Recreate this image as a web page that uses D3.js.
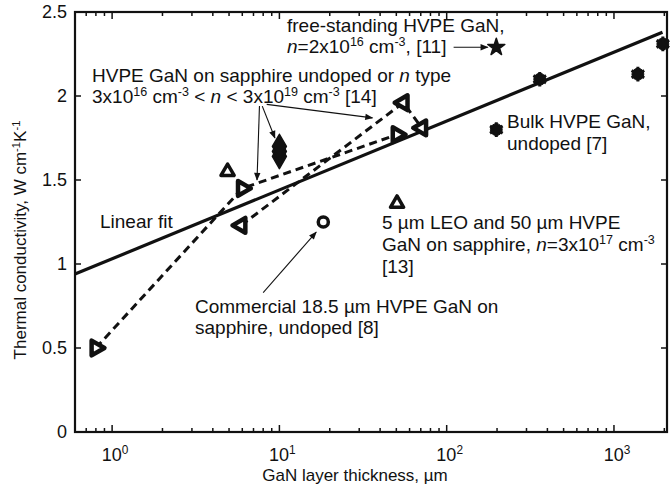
<!DOCTYPE html>
<html>
<head>
<meta charset="utf-8">
<script src="https://cdn.jsdelivr.net/npm/d3@7"></script>
<style>
  body { margin: 0; background: #fff; }
  svg { font-family: "Liberation Sans", Arial, sans-serif; }
  text { fill: #111; }
</style>
</head>
<body>
<div id="chart"></div>
<script>
// data (thickness in um, conductivity in W/cm/K)
var triRightX = [0.8, 6, 50.5];
var triRightY = [0.5, 1.45, 1.77];
var triLeftX = [5.9, 55, 71];
var triLeftY = [1.23, 1.96, 1.81];
var leoX = [4.9, 50.5];
var leoY = [1.55, 1.36];
var diamondX = [10, 10, 10];
var diamondY = [1.64, 1.67, 1.70];
var commercialX = [18.3];
var commercialY = [1.25];
var freeX = [198];
var freeY = [2.29];
var bulkX = [198, 360, 1390, 1960];
var bulkY = [1.80, 2.10, 2.13, 2.31];
var fitX = [0.6, 1950];
var fitY = [0.94, 2.38];
var yTicks = [0, 0.5, 1, 1.5, 2, 2.5];
var xMajor = [1, 10, 100, 1000];

var width = 672, height = 486;
var svg = d3.select("#chart").append("svg")
  .attr("width", width)
  .attr("height", height);

var x = d3.scaleLog().domain([0.6, 2075]).range([75, 667]);
var y = d3.scaleLinear().domain([0, 2.5]).range([432, 12]);

// minor ticks 2..9 per decade inside the range
var xMinor = [];
for (var e = -1; e <= 3; e++) {
  for (var m = 2; m <= 9; m++) {
    var v = m * Math.pow(10, e);
    if (v > 0.6 && v < 2075) xMinor.push(v);
  }
}

// writes text with ^{sup} and _italic_ pieces
function rich(sel, px, py, str, size, anchor) {
  var t = sel.append("text").attr("x", px).attr("y", py)
    .style("font-size", size + "px")
    .attr("text-anchor", anchor || "start");
  var parts = str.split(/(\^\{[^}]*\}|_[^_]+_)/).filter(function(s) { return s.length; });
  var up = false;
  parts.forEach(function(p) {
    var ts = t.append("tspan");
    if (p[0] === "^") {
      ts.text(p.slice(2, -1)).style("font-size", (size * 0.66) + "px");
      if (!up) { ts.attr("dy", -size * 0.38); up = true; }
    } else {
      if (p[0] === "_") { ts.text(p.slice(1, -1)).style("font-style", "italic"); }
      else ts.text(p);
      if (up) { ts.attr("dy", size * 0.38); up = false; }
    }
  });
  return t;
}

svg.append("defs").append("marker")
  .attr("id", "head")
  .attr("viewBox", "0 0 10 10")
  .attr("refX", 9).attr("refY", 5)
  .attr("markerWidth", 11).attr("markerHeight", 8)
  .attr("markerUnits", "userSpaceOnUse")
  .attr("orient", "auto")
  .append("path").attr("d", "M0,1 L10,5 L0,9 Z").attr("fill", "#111");

// axes, ticks pointing inward
var axBottom = svg.append("g").attr("transform", "translate(0,432)");
var axTop = svg.append("g").attr("transform", "translate(0,12)");
[axBottom, axTop].forEach(function(g, i) {
  var dir = i === 0 ? -1 : 1;
  g.selectAll(".mj").data(xMajor).enter().append("line")
    .attr("x1", function(d) { return x(d); }).attr("x2", function(d) { return x(d); })
    .attr("y1", 0).attr("y2", dir * 7)
    .attr("stroke", "#111").attr("stroke-width", 1.5);
  g.selectAll(".mn").data(xMinor).enter().append("line")
    .attr("x1", function(d) { return x(d); }).attr("x2", function(d) { return x(d); })
    .attr("y1", 0).attr("y2", dir * 4)
    .attr("stroke", "#111").attr("stroke-width", 1.5);
});
[75, 667].forEach(function(px, i) {
  var dir = i === 0 ? 1 : -1;
  svg.append("g").selectAll("line").data(yTicks).enter().append("line")
    .attr("x1", px).attr("x2", px + dir * 6)
    .attr("y1", function(d) { return y(d); }).attr("y2", function(d) { return y(d); })
    .attr("stroke", "#111").attr("stroke-width", 1.5);
});
svg.append("rect")
  .attr("x", 75).attr("y", 12).attr("width", 592).attr("height", 420)
  .attr("fill", "none").attr("stroke", "#111").attr("stroke-width", 2.2);

// tick labels
yTicks.forEach(function(d) {
  svg.append("text").attr("x", 67).attr("y", y(d) + 6)
    .attr("text-anchor", "end").style("font-size", "18px").text(String(d));
});
xMajor.forEach(function(d) {
  rich(svg, x(d) + 3, 461, "10^{" + Math.round(Math.log10(d)) + "}", 18, "middle");
});

rich(svg, 355, 481, "GaN layer thickness, \u00b5m", 17, "middle");
rich(svg, 0, 0, "Thermal conductivity, W cm^{-1}K^{-1}", 17, "middle")
  .attr("transform", "translate(26,240) rotate(-90)");

var plot = svg.append("g");
var line = d3.line().x(function(d) { return x(d[0]); }).y(function(d) { return y(d[1]); });

// linear fit
plot.append("path").datum(d3.zip(fitX, fitY)).attr("d", line)
  .attr("fill", "none").attr("stroke", "#111").attr("stroke-width", 3.2);

// dashed series
plot.append("path").datum(d3.zip(triRightX, triRightY)).attr("d", line)
  .attr("fill", "none").attr("stroke", "#111").attr("stroke-width", 3)
  .attr("stroke-dasharray", "8,5");
plot.append("path").datum(d3.zip(triLeftX, triLeftY)).attr("d", line)
  .attr("fill", "none").attr("stroke", "#111").attr("stroke-width", 3)
  .attr("stroke-dasharray", "8,5");

function sym(data, type, size, rot, fill, sw) {
  plot.selectAll(null).data(data).enter().append("path")
    .attr("d", d3.symbol().type(type).size(size))
    .attr("transform", function(d) { return "translate(" + x(d[0]) + "," + y(d[1]) + ") rotate(" + rot + ")"; })
    .attr("fill", fill).attr("stroke", "#111").attr("stroke-width", sw)
    .attr("stroke-linejoin", "round");
}

sym(d3.zip(triRightX, triRightY), d3.symbolTriangle, 95, 90, "#fff", 4.5);
sym(d3.zip(triLeftX, triLeftY), d3.symbolTriangle, 95, -90, "#fff", 4.5);
sym(d3.zip(leoX, leoY), d3.symbolTriangle, 75, 0, "#fff", 3.5);
sym(d3.zip(diamondX, diamondY), d3.symbolDiamond, 170, 0, "#111", 1.5);
sym(d3.zip(commercialX, commercialY), d3.symbolCircle, 80, 0, "#fff", 3.5);
sym(d3.zip(freeX, freeY), d3.symbolStar, 90, 0, "#111", 1.5);
sym(d3.zip(bulkX, bulkY), d3.symbolCircle, 110, 0, "#111", 1);
sym(d3.zip(bulkX, bulkY), d3.symbolAsterisk, 150, 0, "none", 3);

// annotations
var notes = svg.append("g");
rich(notes, 287, 32, "free-standing HVPE GaN,", 19);
rich(notes, 287, 53, "_n_=2x10^{16} cm^{-3}, [11]", 19);
rich(notes, 92, 82, "HVPE GaN on sapphire undoped or _n_ type", 19);
rich(notes, 92, 103, "3x10^{16} cm^{-3} < _n_ < 3x10^{19} cm^{-3} [14]", 19);
rich(notes, 507, 128, "Bulk HVPE GaN,", 19);
rich(notes, 507, 150, "undoped [7]", 19);
rich(notes, 382, 229, "5 \u00b5m LEO and 50 \u00b5m HVPE", 19);
rich(notes, 382, 251, "GaN on sapphire, _n_=3x10^{17} cm^{-3}", 19);
rich(notes, 382, 273, "[13]", 19);
rich(notes, 195, 313, "Commercial 18.5 \u00b5m HVPE GaN on", 19);
rich(notes, 195, 334, "sapphire, undoped [8]", 19);
rich(notes, 100, 228, "Linear fit", 19);

var arrows = [
  [[110, 2.29], [176, 2.29]],
  [[7.6, 1.94], [7.35, 1.50]],
  [[7.9, 1.94], [9.4, 1.75]],
  [[8.4, 1.95], [36, 1.87]],
  [[8.0, 0.83], [16.6, 1.19]]
];
notes.selectAll(null).data(arrows).enter().append("path")
  .attr("d", line)
  .attr("stroke", "#111").attr("stroke-width", 1.1).attr("fill", "none")
  .attr("marker-end", "url(#head)");
</script>
</body>
</html>
